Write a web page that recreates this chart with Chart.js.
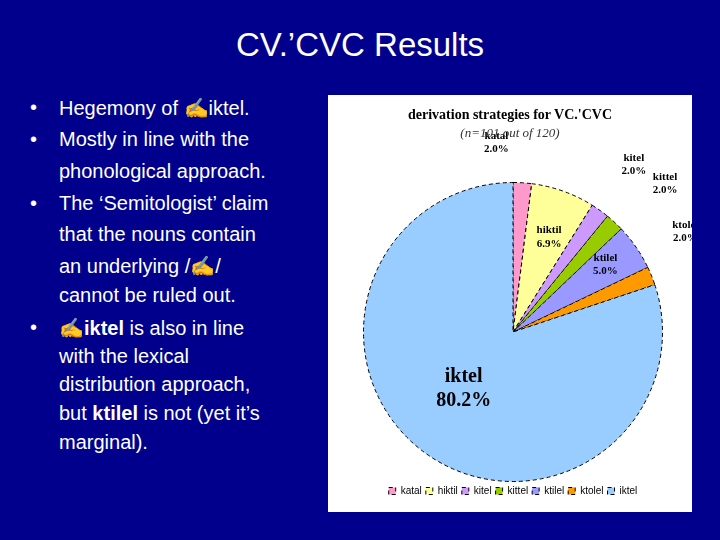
<!DOCTYPE html>
<html>
<head>
<meta charset="utf-8">
<script src="https://cdn.jsdelivr.net/npm/chart.js@4/dist/chart.umd.min.js"></script>
<style>
  body { margin: 0; width: 720px; height: 540px; background: #00008c; font-family: "Liberation Sans", Arial, sans-serif; color: #fff; position: relative; overflow: hidden; }
  .title { position: absolute; top: 26px; width: 720px; text-align: center; font-size: 33px; }
  .ln { position: absolute; font-size: 20px; white-space: nowrap; }
  .panel { position: absolute; left: 328px; top: 95px; width: 364px; height: 417px; background: #fff; }
  .ct { position: absolute; width: 364px; text-align: center; color: #000; font-family: "Liberation Serif", serif; }
</style>
</head>
<body>
<div class="title">CV.’CVC Results</div>
<div id="bullets"></div>
<div class="panel">
  <canvas id="pie" width="364" height="417"></canvas>
  <div class="ct" style="top:12px;font-size:14px;font-weight:bold;">derivation strategies for VC.'CVC</div>
  <div class="ct" style="top:30px;font-size:13px;font-style:italic;color:#333;">(n=101 out of 120)</div>
</div>
<script>
const categories = ['katal', 'hiktil', 'kitel', 'kittel', 'ktilel', 'ktolel', 'iktel'];
const percents = [2.0, 6.9, 2.0, 2.0, 5.0, 2.0, 80.2];
const colors = ['#ff99cc', '#ffff99', '#cc99ff', '#99cc00', '#9999ff', '#ff9900', '#99ccff'];

const lines = [
  ['•', 'Hegemony of ✍iktel.', 96],
  ['•', 'Mostly in line with the', 128],
  ['', 'phonological approach.', 160],
  ['•', 'The ‘Semitologist’ claim', 192],
  ['', 'that the nouns contain', 223],
  ['', 'an underlying /✍/', 254],
  ['', 'cannot be ruled out.', 284],
  ['•', '<b>✍iktel</b> is also in line', 316],
  ['', 'with the lexical', 345],
  ['', 'distribution approach,', 373],
  ['', 'but <b>ktilel</b> is not (yet it’s', 402],
  ['', 'marginal).', 431]
];
const b = document.getElementById('bullets');
lines.forEach(l => {
  if (l[0]) b.innerHTML += `<div class="ln" style="left:30px;top:${l[2]}px">${l[0]}</div>`;
  b.innerHTML += `<div class="ln" style="left:59px;top:${l[2]}px">${l[1]}</div>`;
});

// label placement: radius factor, dx, dy, font size
const labelPos = [
  [1.22, -28, -14, 11], [0.72, 0, 0, 11], [1.25, 12, -22, 11], [1.3, 20, -12, 11],
  [0.8, -6, -6, 11], [1.2, 6, -40, 11], [0.45, -10, -10, 20]
];

const pieLabels = {
  id: 'pieLabels',
  afterDatasetsDraw(chart) {
    const ctx = chart.ctx;
    chart.getDatasetMeta(0).data.forEach((arc, i) => {
      const p = labelPos[i];
      const mid = (arc.startAngle + arc.endAngle) / 2;
      const r = arc.outerRadius * p[0];
      const x = arc.x + Math.cos(mid) * r + p[1];
      const y = arc.y + Math.sin(mid) * r + p[2];
      ctx.save();
      ctx.fillStyle = '#000';
      ctx.font = `bold ${p[3]}px "Liberation Serif", serif`;
      ctx.textAlign = 'center';
      ctx.fillText(categories[i], x, y);
      ctx.fillText(percents[i].toFixed(1) + '%', x, y + p[3] * 1.2);
      ctx.restore();
    });
  }
};

new Chart(document.getElementById('pie'), {
  type: 'pie',
  data: {
    labels: categories,
    datasets: [{
      data: percents,
      backgroundColor: colors,
      borderColor: '#000',
      borderWidth: 1,
      borderDash: [4, 3]
    }]
  },
  options: {
    responsive: false,
    animation: false,
    layout: { padding: { top: 87, left: 34, right: 28, bottom: 6 } },
    plugins: {
      tooltip: { enabled: false },
      legend: {
        position: 'bottom',
        labels: { boxWidth: 7, boxHeight: 7, padding: 4, color: '#000', font: { size: 10, family: 'Liberation Sans' } }
      }
    }
  },
  plugins: [pieLabels]
});
</script>
</body>
</html>
